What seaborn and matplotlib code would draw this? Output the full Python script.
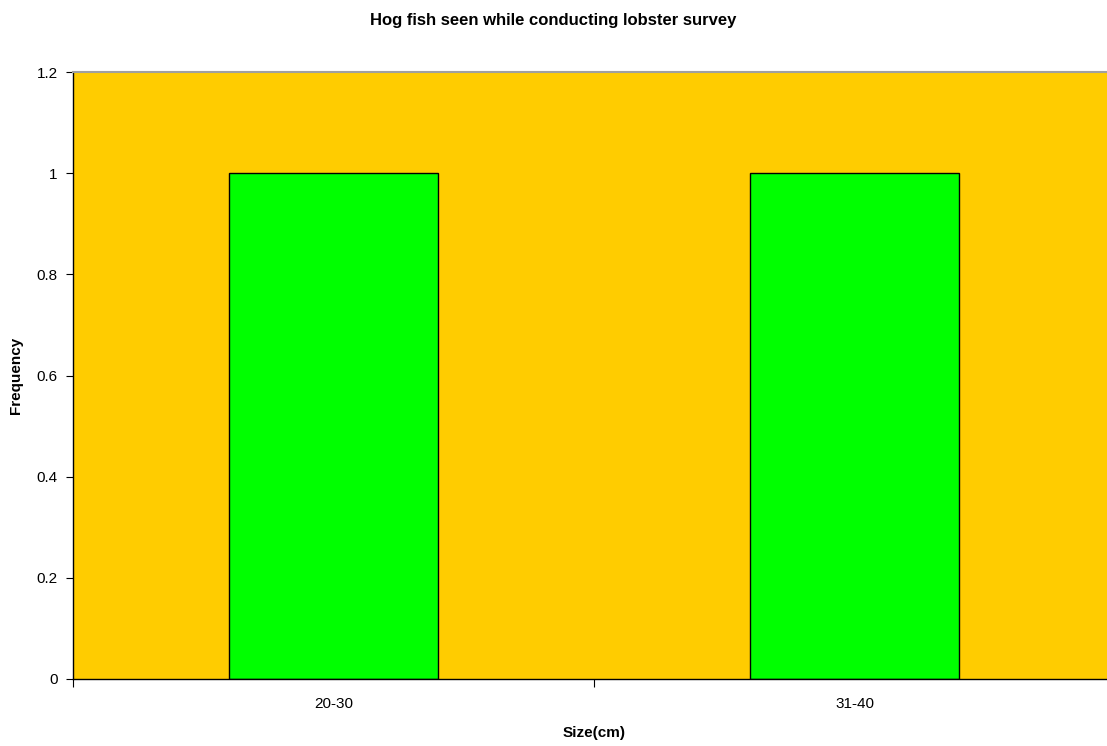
import matplotlib

matplotlib.use("Agg")
import matplotlib.pyplot as plt
import pandas as pd
import seaborn as sns

# values
sizes = ["20-30", "31-40"]
frequency = [1, 1]
y_ticks = [0, 0.2, 0.4, 0.6, 0.8, 1.0, 1.2]
y_tick_labels = ["0", "0.2", "0.4", "0.6", "0.8", "1", "1.2"]

sns.set_style("ticks")
plt.rcParams["font.family"] = ["Liberation Sans", "DejaVu Sans"]
plt.rcParams["text.color"] = "black"
plt.rcParams["ytick.labelcolor"] = "black"

df = pd.DataFrame({"size": sizes, "freq": frequency})

fig = plt.figure(figsize=(11.07, 7.46), dpi=100)
ax = fig.add_axes([73 / 1107, 67 / 746, 1042 / 1107, 607 / 746])
ax.set_facecolor("#FFCC00")

sns.barplot(data=df, x="size", y="freq", color="#00FF00", saturation=1,
            width=0.4, edgecolor="black", linewidth=1, ax=ax)

ax.set_xlim(-0.5, 1.5)
ax.set_ylim(0, 1.2)
ax.set_yticks(y_ticks)
ax.set_yticklabels(y_tick_labels, fontsize=11, color="black")
ax.set_xticks([-0.5, 0.5, 1.5])
ax.set_xticklabels([])
for i, lbl in enumerate(sizes):
    ax.text(i, -0.05, lbl, ha="center", va="center", fontsize=11, color="black")
ax.tick_params(axis="x", length=6, width=0.8, color="black", direction="out")
ax.tick_params(axis="y", length=5, width=0.8, color="black", direction="out", pad=6)

for side in ["left", "bottom"]:
    ax.spines[side].set_color("black")
    ax.spines[side].set_linewidth(1)
ax.spines["top"].set_visible(True)
ax.spines["top"].set_color("#A0A0A0")
ax.spines["top"].set_linewidth(1.5)
ax.spines["right"].set_visible(False)

ax.set_xlabel("")
ax.set_ylabel("")
fig.text(594 / 1107, 1 - 733 / 746, "Size(cm)", ha="center", va="center",
         fontsize=11, fontweight="bold", color="black")
fig.text(16 / 1107, 1 - 375 / 746, "Frequency", ha="center", va="center",
         rotation=90, fontsize=11, fontweight="bold", color="black")
fig.text(0.5, 1 - 20 / 746, "Hog fish seen while conducting lobster survey",
         ha="center", va="center", fontsize=12, fontweight="bold", color="black")

fig.savefig("out.png", dpi=100)
plt.close(fig)
